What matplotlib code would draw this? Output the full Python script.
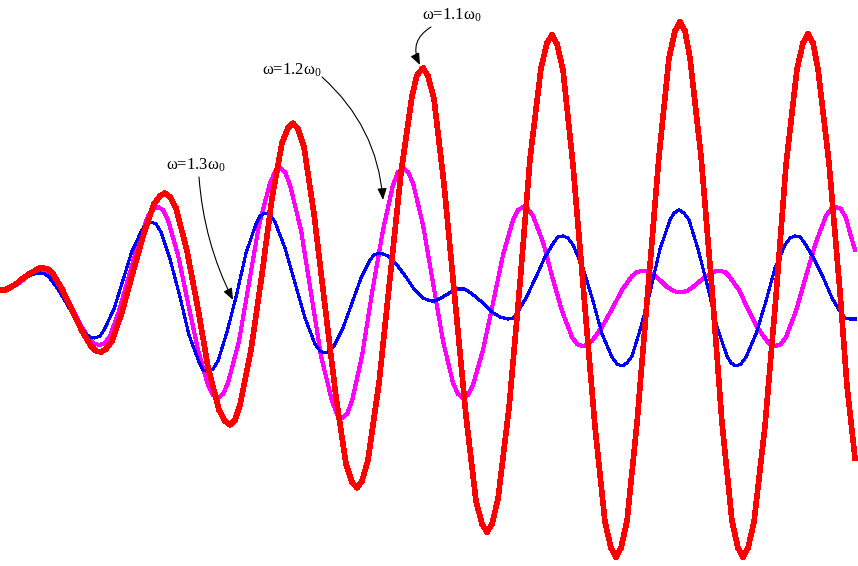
import matplotlib
matplotlib.use("Agg")
import matplotlib.pyplot as plt

# displacement vs time (time in px, displacement up from rest line)
t_11 = [2, 5, 9, 16, 22, 29, 36, 40,
        43, 48, 53, 62, 72, 82, 91, 96,
        101, 106, 112, 122, 133, 144, 154, 160,
        165, 170, 176, 187, 198, 208, 219, 225,
        230, 235, 240, 251, 262, 272, 282, 288,
        293, 298, 304, 314, 325, 336, 346, 352,
        357, 362, 368, 379, 390, 401, 412, 417,
        423, 428, 434, 444, 455, 466, 476, 482,
        487, 492, 498, 509, 520, 530, 541, 547,
        552, 557, 563, 573, 584, 595, 605, 611,
        616, 621, 627, 637, 648, 659, 669, 675,
        680, 685, 690, 701, 712, 722, 732, 738,
        743, 748, 754, 765, 776, 786, 797, 803,
        808, 813, 818, 829, 840, 847, 855]
x_11 = [0, 0, 2, 6, 11, 16, 20, 22,
        22, 21, 16, 1, -20, -41, -56, -61,
        -62, -59, -51, -22, 18, 57, 86, 94,
        97, 93, 82, 39, -19, -77, -120, -131,
        -135, -130, -115, -60, 16, 92, 147, 162,
        167, 161, 143, 76, -16, -107, -174, -192,
        -198, -191, -170, -93, 12, 117, 194, 215,
        222, 214, 191, 106, -10, -126, -211, -234,
        -242, -234, -209, -118, 7, 131, 222, 247,
        255, 246, 220, 125, -6, -137, -232, -258,
        -267, -258, -231, -133, 1, 134, 232, 259,
        268, 259, 232, 134, 1, -133, -231, -258,
        -267, -258, -232, -136, -6, 125, 221, 247,
        256, 247, 221, 127, -2, -96, -168]

t_12 = [2, 5, 9, 16, 23, 29, 36, 40,
        43, 48, 52, 62, 72, 81, 90, 95,
        100, 105, 110, 119, 129, 139, 148, 153,
        158, 163, 168, 178, 188, 198, 208, 213,
        218, 223, 228, 239, 249, 259, 270, 275,
        280, 285, 290, 301, 311, 321, 332, 337,
        342, 347, 352, 362, 372, 383, 393, 398,
        403, 408, 413, 423, 433, 443, 453, 458,
        463, 468, 473, 483, 493, 503, 513, 518,
        523, 528, 533, 543, 552, 562, 572, 577,
        582, 587, 592, 602, 612, 622, 632, 637,
        642, 645, 648, 655, 661, 667, 674, 677,
        680, 683, 687, 693, 700, 707, 713, 717,
        720, 725, 729, 739, 748, 757, 767, 771,
        776, 781, 786, 796, 806, 816, 826, 831,
        836, 841, 846, 850, 855]
x_12 = [0, 0, 1, 5, 10, 15, 19, 20,
        20, 19, 15, 1, -18, -36, -50, -54,
        -55, -53, -46, -21, 14, 49, 74, 81,
        83, 80, 70, 35, -13, -60, -95, -105,
        -108, -104, -93, -51, 7, 65, 107, 118,
        122, 118, 105, 60, -3, -66, -111, -124,
        -128, -124, -111, -66, -3, 60, 105, 118,
        122, 118, 107, 65, 7, -51, -93, -104,
        -108, -105, -95, -60, -13, 35, 70, 80,
        83, 81, 74, 48, 14, -21, -47, -54,
        -56, -55, -51, -37, -19, 0, 14, 18,
        19, 19, 18, 14, 9, 3, -1, -2,
        -2, -2, -1, 3, 9, 14, 18, 19,
        19, 18, 14, 0, -19, -37, -51, -55,
        -56, -54, -47, -21, 14, 48, 74, 81,
        83, 81, 72, 57, 40]

t_13 = [2, 5, 8, 15, 21, 27, 34, 37,
        40, 45, 49, 58, 68, 77, 86, 90,
        95, 100, 104, 114, 123, 132, 142, 146,
        151, 156, 161, 170, 180, 189, 199, 203,
        208, 213, 218, 227, 237, 246, 256, 260,
        265, 270, 275, 285, 295, 305, 315, 320,
        325, 330, 334, 343, 352, 361, 370, 374,
        379, 383, 388, 397, 406, 414, 423, 428,
        432, 434, 437, 441, 446, 451, 455, 458,
        460, 464, 468, 476, 484, 492, 500, 504,
        508, 513, 517, 526, 536, 545, 554, 558,
        563, 568, 573, 583, 593, 602, 612, 617,
        622, 627, 632, 641, 651, 660, 670, 674,
        679, 684, 689, 698, 708, 717, 727, 731,
        736, 741, 746, 756, 766, 775, 785, 790,
        795, 800, 804, 813, 823, 832, 841, 845,
        850, 855]
x_13 = [0, 0, 1, 4, 9, 13, 16, 17,
        17, 16, 13, 1, -16, -32, -44, -47,
        -48, -46, -40, -19, 10, 39, 60, 66,
        68, 66, 58, 31, -7, -45, -72, -80,
        -82, -79, -71, -42, -3, 37, 66, 74,
        77, 75, 68, 42, 7, -28, -54, -61,
        -63, -61, -56, -38, -13, 12, 30, 35,
        37, 36, 34, 25, 13, 1, -8, -10,
        -11, -11, -10, -8, -5, -2, 0, 1,
        1, 1, -1, -7, -14, -22, -27, -28,
        -29, -28, -23, -8, 13, 33, 48, 53,
        54, 52, 45, 22, -11, -44, -67, -74,
        -76, -73, -66, -37, 2, 41, 70, 77,
        80, 77, 70, 41, 2, -37, -66, -73,
        -76, -74, -67, -44, -11, 22, 45, 52,
        54, 53, 48, 33, 13, -8, -23, -28,
        -29, -29]

labels = ["ω=1.1ω$_0$", "ω=1.2ω$_0$", "ω=1.3ω$_0$"]

plt.rcParams['mathtext.fontset'] = 'custom'
plt.rcParams['mathtext.rm'] = 'Liberation Serif'
plt.rcParams['mathtext.it'] = 'Liberation Serif:italic'

fig = plt.figure(figsize=(8.58, 5.66), dpi=100)
ax = fig.add_axes([0, 0, 1, 1])
ax.set_xlim(0, 858)
ax.set_ylim(-276, 290)
ax.axis('off')

ax.plot(t_12, x_12, color='#ff00ff', lw=2.2, antialiased=False, solid_joinstyle='round')
ax.plot(t_13, x_13, color='#0000ff', lw=1.5, antialiased=False, solid_joinstyle='round')
ax.plot(t_11, x_11, color='#ff0000', lw=3.3, antialiased=False, solid_joinstyle='round')

# labels with curved pointers
txt = dict(family='Liberation Serif', fontsize=12, ha='center', va='center')
arrow = dict(arrowstyle='-|>,head_length=0.7,head_width=0.28', color='black', lw=0.8,
             shrinkA=0, shrinkB=0, mutation_scale=10)

ax.text(452, 275, labels[0], **txt)
ax.annotate('', xy=(420, 225), xytext=(431, 263),
            arrowprops=dict(arrow, connectionstyle='arc3,rad=0.45'))

ax.text(292, 220, labels[1], **txt)
ax.annotate('', xy=(383, 90), xytext=(322, 213),
            arrowprops=dict(arrow, connectionstyle='arc3,rad=-0.2'))

ax.text(196, 125, labels[2], **txt)
ax.annotate('', xy=(233, -10), xytext=(199, 113),
            arrowprops=dict(arrow, connectionstyle='arc3,rad=0.1'))

fig.savefig('out.png', dpi=100)
